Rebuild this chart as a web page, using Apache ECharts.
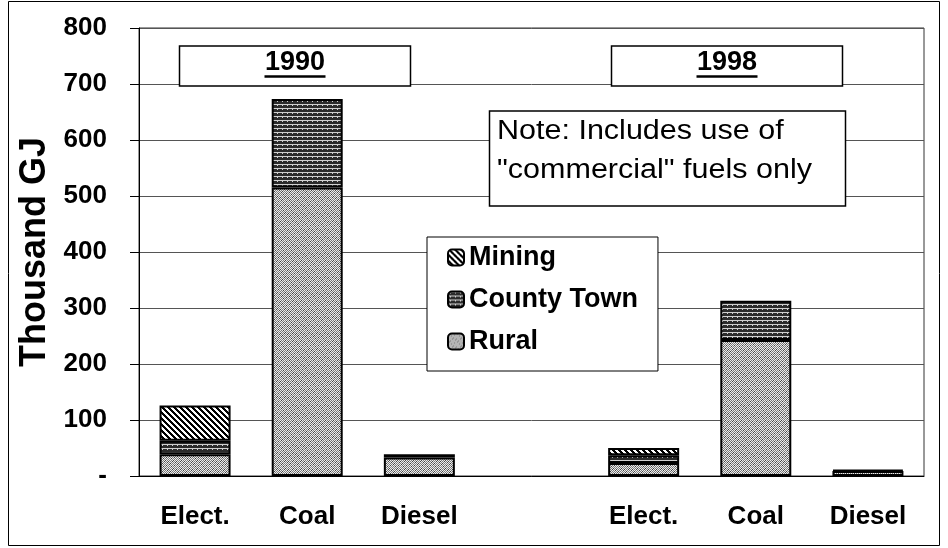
<!DOCTYPE html>
<html>
<head>
<meta charset="utf-8">
<script src="https://cdn.jsdelivr.net/npm/echarts@6/dist/echarts.min.js"></script>
<style>
  html, body { margin: 0; padding: 0; background: #fff; }
  #chart { width: 948px; height: 548px; }
</style>
</head>
<body>
<div id="chart"></div>
<script>
// data (thousand GJ)
var categories = ['Elect.', 'Coal', 'Diesel', '', 'Elect.', 'Coal', 'Diesel'];
var rural = [39, 515, 33, null, 23, 243, 9];
var countyTown = [24, 158, 6, null, 14, 70, 2];
var mining = [63, null, null, null, 13, null, null];
var yTickLabels = ['-', '100', '200', '300', '400', '500', '600', '700', '800'];
var yearLabels = ['1990', '1998'];

var FONT = '"Liberation Sans", Arial, sans-serif';

// small canvas tiles used as fill patterns
function tile(w, h, draw) {
  var c = document.createElement('canvas');
  c.width = w; c.height = h;
  var ctx = c.getContext('2d');
  draw(ctx);
  return { image: c, repeat: 'repeat' };
}
function px(ctx, x, y, col) { ctx.fillStyle = col; ctx.fillRect(x, y, 1, 1); }

// rural: grey stipple (checker with a few dark specks)
var ruralFill = tile(8, 8, function (ctx) {
  for (var y = 0; y < 8; y++) for (var x = 0; x < 8; x++) {
    px(ctx, x, y, (x + y) % 2 ? '#7c7c7c' : '#ececec');
  }
  [[1, 0], [6, 1], [3, 2], [0, 5], [5, 4], [2, 7], [7, 6], [4, 5]].forEach(function (p) {
    px(ctx, p[0], p[1], '#444');
  });
});
// county town: dark brick
var countyFill = tile(5, 4, function (ctx) {
  ctx.fillStyle = '#2b2b2b'; ctx.fillRect(0, 0, 5, 4);
  ctx.fillStyle = '#d0d0d0'; ctx.fillRect(0, 0, 5, 1); ctx.fillRect(2, 1, 1, 1);
});
// mining: diagonal hatch
var miningFill = tile(6, 6, function (ctx) {
  ctx.fillStyle = '#fff'; ctx.fillRect(0, 0, 6, 6);
  for (var y = 0; y < 6; y++) for (var k = 0; k < 3; k++) px(ctx, (y + k) % 6, y, '#000');
});

var chart = echarts.init(document.getElementById('chart'));

function barSeries(name, data, fill) {
  return {
    name: name,
    type: 'bar',
    stack: 'total',
    barWidth: 71,
    data: data,
    itemStyle: { color: fill, borderColor: '#000', borderWidth: 2 },
    emphasis: { disabled: true }
  };
}

function yearBox(x, label) {
  return [
    { type: 'rect', shape: { x: x, y: 46, width: 231, height: 40 },
      style: { fill: '#fff', stroke: '#000', lineWidth: 1.5 }, z: 100 },
    { type: 'text', x: x + 115.5, y: 63, z: 101,
      style: { text: label, font: 'bold 27px ' + FONT, fill: '#000', align: 'center', verticalAlign: 'middle' } },
    { type: 'line', shape: { x1: x + 85, y1: 76.5, x2: x + 146, y2: 76.5 },
      style: { stroke: '#000', lineWidth: 2.5 }, z: 101 }
  ];
}

var option = {
  backgroundColor: '#fff',
  animation: false,
  grid: { left: 139, right: 24, top: 28, bottom: 72, show: true, borderColor: '#333', borderWidth: 1 },
  legend: {
    orient: 'vertical',
    left: 427,
    top: 237,
    data: ['Mining', 'County Town', 'Rural'],
    itemWidth: 16,
    itemHeight: 16,
    itemGap: 15,
    padding: [7, 20, 16, 20],
    backgroundColor: '#fff',
    borderColor: '#000',
    borderWidth: 1,
    selectedMode: false,
    textStyle: { fontFamily: FONT, fontWeight: 'bold', fontSize: 27, color: '#000', lineHeight: 26 }
  },
  xAxis: {
    type: 'category',
    data: categories,
    axisLine: { lineStyle: { color: '#000', width: 1 } },
    axisTick: { length: 9, lineStyle: { color: '#000' } },
    axisLabel: { fontFamily: FONT, fontWeight: 'bold', fontSize: 26, color: '#000', margin: 28, interval: 0 }
  },
  yAxis: {
    type: 'value',
    min: 0,
    max: 800,
    interval: 100,
    name: 'Thousand GJ',
    nameLocation: 'middle',
    nameGap: 84,
    nameTextStyle: { fontFamily: FONT, fontWeight: 'bold', fontSize: 36, color: '#000' },
    axisLine: { show: true, lineStyle: { color: '#000', width: 1 } },
    axisTick: { show: true, length: 9, lineStyle: { color: '#000' } },
    axisLabel: {
      fontFamily: FONT, fontWeight: 'bold', fontSize: 26, color: '#000', margin: 32,
      formatter: function (v) { return yTickLabels[Math.round(v / 100)]; }
    },
    splitLine: { show: true, lineStyle: { color: '#555', width: 1 } }
  },
  series: [
    barSeries('Rural', rural, ruralFill),
    barSeries('County Town', countyTown, countyFill),
    barSeries('Mining', mining, miningFill)
  ],
  graphic: [
    { type: 'rect', shape: { x: 8.5, y: 1.5, width: 931, height: 544 },
      style: { fill: 'none', stroke: '#000', lineWidth: 1 }, z: 100 },
    { type: 'rect', shape: { x: 489.5, y: 111, width: 356, height: 95 },
      style: { fill: '#fff', stroke: '#000', lineWidth: 1.5 }, z: 100 },
    { type: 'text', x: 497, y: 112, scaleX: 1.13, z: 101,
      style: { text: 'Note: Includes use of\n"commercial" fuels only', font: '27px ' + FONT,
               lineHeight: 39, fill: '#000', align: 'left', verticalAlign: 'top' } }
  ].concat(yearBox(179.5, yearLabels[0])).concat(yearBox(611.5, yearLabels[1]))
};

chart.setOption(option);
</script>
</body>
</html>
